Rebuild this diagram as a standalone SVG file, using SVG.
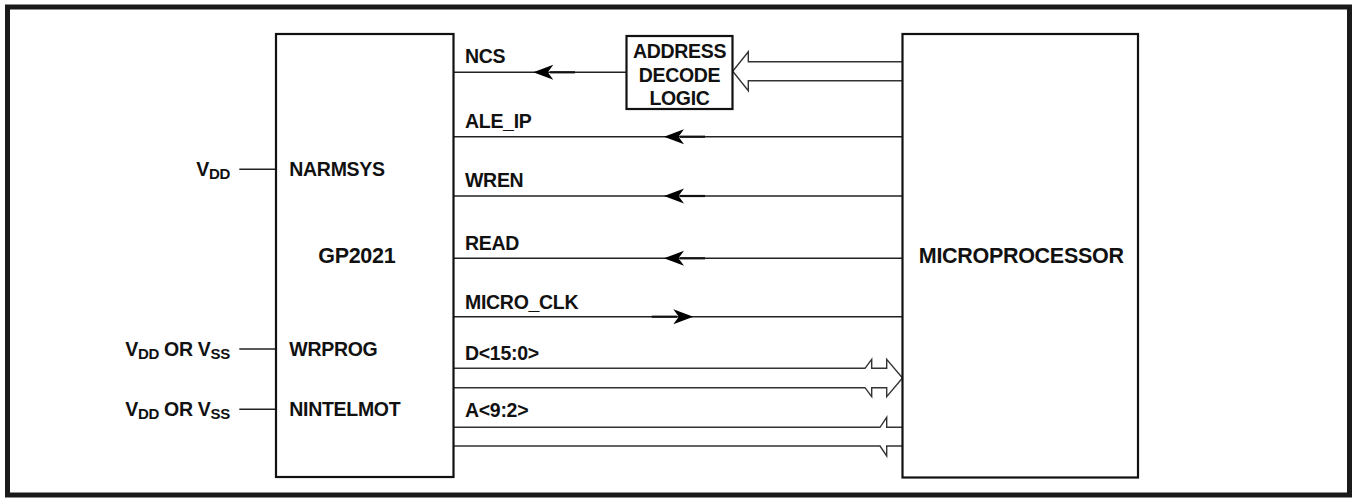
<svg xmlns="http://www.w3.org/2000/svg" width="1354" height="499" viewBox="0 0 1354 499">
<style>
.lbl{font-family:"Liberation Sans",Arial,sans-serif;font-weight:bold;font-size:19.5px;fill:#111;letter-spacing:-0.3px}
.big{font-size:21.5px}
.sub{font-size:15px}
.box{fill:#fff;stroke:#111;stroke-width:2.2}
.wire{stroke:#222;stroke-width:1.4;fill:none}
.thick{stroke:#111;stroke-width:2.2;fill:none}
.bus{stroke:#333;stroke-width:1.4;fill:none;stroke-linejoin:miter}
.ah{fill:#000;stroke:none}
</style>
<defs>
<path id="arrowL" d="M0,0 L20,-7.5 L14.5,0 L20,7.5 Z"/>
</defs>
<rect id="frame" x="7.5" y="7" width="1342" height="488" fill="#fff" stroke="#1a1a1a" stroke-width="5"/>

<g id="connectors">
  <line class="wire" x1="239.3" y1="169.3" x2="276" y2="169.3"/>
  <line class="wire" x1="239.3" y1="349" x2="276" y2="349"/>
  <line class="wire" x1="239.3" y1="409.3" x2="276" y2="409.3"/>
  <line class="wire" x1="453.5" y1="72.3" x2="626.5" y2="72.3"/>
  <line class="thick" x1="550" y1="72.3" x2="575" y2="72.3"/>
  <use href="#arrowL" class="ah" transform="translate(533.3,72.3)"/>
  <path class="bus" d="M902.5,61.7 H748.3 V51.7 L732.7,71.2 L748.3,90.7 V80.7 H902.5"/>
  <line class="wire" x1="453.5" y1="136.7" x2="902.5" y2="136.7"/>
  <line class="thick" x1="680" y1="136.7" x2="705" y2="136.7"/>
  <use href="#arrowL" class="ah" transform="translate(664,136.7)"/>
  <line class="wire" x1="453.5" y1="196" x2="902.5" y2="196"/>
  <line class="thick" x1="680" y1="196" x2="705" y2="196"/>
  <use href="#arrowL" class="ah" transform="translate(664,196)"/>
  <line class="wire" x1="453.5" y1="258.3" x2="902.5" y2="258.3"/>
  <line class="thick" x1="680" y1="258.3" x2="705" y2="258.3"/>
  <use href="#arrowL" class="ah" transform="translate(664,258.3)"/>
  <line class="wire" x1="453.5" y1="316.7" x2="902.5" y2="316.7"/>
  <line class="thick" x1="651.7" y1="316.7" x2="677" y2="316.7"/>
  <use href="#arrowL" class="ah" transform="translate(693.3,316.7) scale(-1,1)"/>
  <path class="bus" d="M453.5,368.3 H865 L871.7,359.3 V368.3 H886.7 V359.3 L902.5,378 L886.7,396.7 V387.7 H871.7 V396.7 L865,387.7 H453.5"/>
  <path class="bus" d="M453.5,427.3 H880 L886.7,417.3 V427.3 H902.5"/>
  <path class="bus" d="M453.5,446 H880 L886.7,456 V446 H902.5"/>
</g>

<g id="gp2021">
  <rect class="box" x="276" y="34" width="177.5" height="443"/>
  <text class="lbl big" x="356.8" y="263.3" text-anchor="middle">GP2021</text>
  <text class="lbl" x="289.3" y="176">NARMSYS</text>
  <text class="lbl" x="289.3" y="356">WRPROG</text>
  <text class="lbl" x="289.3" y="416">NINTELMOT</text>
  <text class="lbl" x="465" y="63.3">NCS</text>
  <text class="lbl" x="465" y="128.3">ALE_IP</text>
  <text class="lbl" x="465" y="186.7">WREN</text>
  <text class="lbl" x="465" y="249.5">READ</text>
  <text class="lbl" x="465" y="309.3">MICRO_CLK</text>
  <text class="lbl" x="465" y="360">D&lt;15:0&gt;</text>
  <text class="lbl" x="465" y="417.3">A&lt;9:2&gt;</text>
</g>

<g id="address-decode">
  <rect class="box" x="626.5" y="36" width="106" height="73"/>
  <text class="lbl" x="679.5" y="58.4" text-anchor="middle">ADDRESS</text>
  <text class="lbl" x="679.5" y="81.7" text-anchor="middle">DECODE</text>
  <text class="lbl" x="679.5" y="105" text-anchor="middle">LOGIC</text>
</g>

<g id="microprocessor">
  <rect class="box" x="902.5" y="34" width="235.5" height="443.5"/>
  <text class="lbl big" x="1021.2" y="263" text-anchor="middle">MICROPROCESSOR</text>
</g>

<g id="supply-vdd">
  <text class="lbl" x="230" y="176" text-anchor="end">V<tspan class="sub" dy="3">DD</tspan></text>
</g>
<g id="supply-wrprog">
  <text class="lbl" x="230" y="356" text-anchor="end">V<tspan class="sub" dy="3">DD</tspan><tspan dy="-3"> OR V</tspan><tspan class="sub" dy="3">SS</tspan></text>
</g>
<g id="supply-nintelmot">
  <text class="lbl" x="230" y="416" text-anchor="end">V<tspan class="sub" dy="3">DD</tspan><tspan dy="-3"> OR V</tspan><tspan class="sub" dy="3">SS</tspan></text>
</g>
</svg>
